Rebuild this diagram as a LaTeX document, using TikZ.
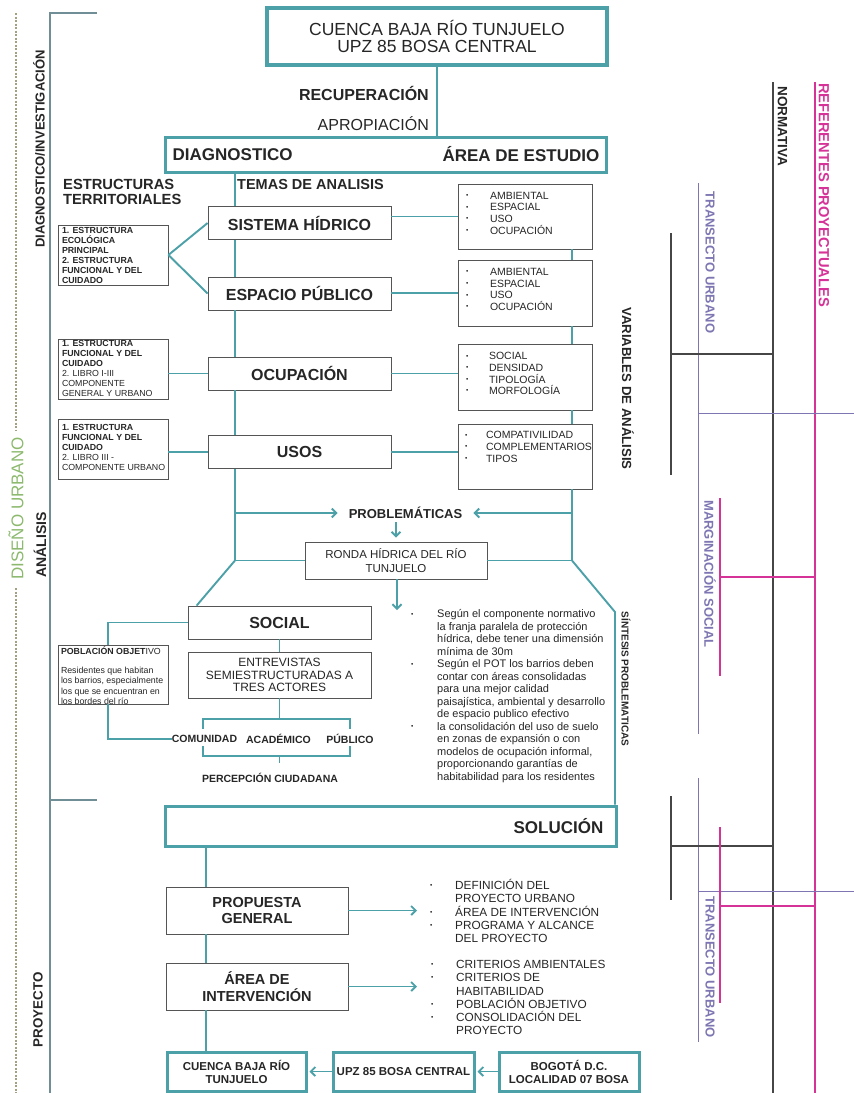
\documentclass[tikz,border=0pt]{standalone}
\usepackage{fontspec}
\setmainfont{Liberation Sans}
\usetikzlibrary{arrows.meta}

\definecolor{riverteal}{RGB}{76,160,168}
\definecolor{boxgray}{RGB}{85,85,85}
\definecolor{inkgray}{RGB}{38,38,38}
\definecolor{bracketgray}{RGB}{112,142,150}
\definecolor{dashgray}{RGB}{165,160,130}
\definecolor{leafgreen}{RGB}{140,185,110}
\definecolor{normgray}{RGB}{70,70,70}
\definecolor{transpurple}{RGB}{125,118,178}
\definecolor{refmagenta}{RGB}{214,51,152}

\newcommand{\fsz}[2]{\fontsize{#1}{#2}\selectfont}
\newcommand{\dotb}{\raisebox{1.8pt}{\fsz{6.5}{6.5}\textbullet}}
\newcommand{\bitem}[2][25pt]{\makebox[#1][l]{\hspace{4pt}\dotb}#2}
\newcommand{\bcont}[2][25pt]{\hspace*{#1}#2}
\newcommand{\topfill}[3]{\parbox[c][#1][t]{#2}{\raggedright #3}}

\tikzset{
  txt/.style={inner sep=0pt, text=inkgray},
  frame/.style={draw=riverteal, line width=3pt, fill=white, inner sep=0pt, text=inkgray},
  tema/.style={draw=boxgray, line width=0.8pt, fill=white, inner sep=0pt, minimum width=183pt, minimum height=33pt, font=\bfseries\fsz{16}{16}, text=inkgray},
  varbox/.style={draw=boxgray, line width=0.8pt, fill=white, inner sep=0pt, minimum width=134pt, minimum height=65pt, font=\fsz{10.5}{11.6}, text=inkgray},
  estbox/.style={draw=boxgray, line width=0.8pt, fill=white, inner sep=0pt, minimum width=110pt, minimum height=60pt, font=\fsz{8.8}{10}, text=inkgray},
  plainbox/.style={draw=boxgray, line width=0.8pt, fill=white, inner sep=0pt, align=center, text=inkgray},
  link/.style={draw=riverteal, line width=1.9pt},
  sidelabel/.style={txt, rotate=90, font=\bfseries\fsz{13}{13}},
  bandlabel/.style={txt, rotate=-90, font=\bfseries\fsz{13}{13}},
  normline/.style={draw=normgray, line width=1.3pt},
  transline/.style={draw=transpurple, line width=1pt},
  refline/.style={draw=refmagenta, line width=1.2pt}
}

\begin{document}
\begin{tikzpicture}[x=1pt, y=-1pt, >={Straight Barb[length=4.5pt, width=9pt]}]
  \useasboundingbox (0, 0) rectangle (854, 1093);

  \draw[dashgray, line width=1.3pt, dash pattern=on 2pt off 1.5pt] (16, 13) -- (16, 430);
  \draw[dashgray, line width=1.3pt, dash pattern=on 2pt off 1.5pt] (16, 588) -- (16, 1093);
  \node[txt, rotate=90, text=leafgreen, font=\fsz{17}{17}] (disenho) at (16, 508.5) {DISEÑO URBANO};
  \draw[bracketgray, line width=1.2pt] (97, 13) -- (50, 13) -- (50, 1093);
  \draw[bracketgray, line width=1.2pt] (50, 800) -- (97, 800);
  \node[sidelabel] (diaginv) at (39, 149) {DIAGNOSTICO/INVESTIGACIÓN};
  \node[sidelabel, font=\bfseries\fsz{14}{14}] (analisis) at (40, 545) {ANÁLISIS};
  \node[sidelabel, font=\bfseries\fsz{13.4}{13.4}] (proyecto) at (38, 1010) {PROYECTO};

  \node[frame, line width=3.5pt, minimum width=340pt, minimum height=57pt, align=center, font=\fsz{17.5}{17.5}] (cuencatop) at (437, 36.5) {CUENCA BAJA RÍO TUNJUELO\\UPZ 85 BOSA CENTRAL};
  \node[txt, anchor=east, font=\bfseries\fsz{16}{16}] (recup) at (429, 93) {RECUPERACIÓN};
  \node[txt, anchor=east, font=\fsz{16}{16}] (aprop) at (429, 124) {APROPIACIÓN};
  \node[frame, minimum width=441pt, minimum height=35pt] (diag) at (385.5, 154.5) {};
  \node[txt, anchor=west, font=\bfseries\fsz{17}{17}] (diagtxt) at ([xshift=9pt]diag.west) {DIAGNOSTICO};
  \node[txt, anchor=east, font=\bfseries\fsz{17}{17}] (areatxt) at ([xshift=-8pt]diag.east) {ÁREA DE ESTUDIO};
  \draw[link] (cuencatop.south) -- (cuencatop.south |- diag.north);

  \node[txt, anchor=west, font=\bfseries\fsz{14.5}{14.5}] (temas) at (237, 185) {TEMAS DE ANALISIS};
  \node[txt, anchor=west, align=left, font=\bfseries\fsz{14.7}{15.5}] (estruct) at (63, 192) {ESTRUCTURAS\\TERRITORIALES};

  \node[tema] (hidrico) at (299.5, 223) {SISTEMA HÍDRICO};
  \node[tema] (publico) at (299.5, 293.5) {ESPACIO PÚBLICO};
  \node[tema] (ocupa) at (299.5, 373.5) {OCUPACIÓN};
  \node[tema] (usos) at (299.5, 452) {USOS};

  \node[varbox] (var1) at (525, 216.5) {\topfill{49pt}{126pt}{\bitem[28pt]{AMBIENTAL}\\\bitem[28pt]{ESPACIAL}\\\bitem[28pt]{USO}\\\bitem[28pt]{OCUPACIÓN}}};
  \node[varbox, minimum height=66pt] (var2) at (525, 293) {\topfill{49pt}{126pt}{\bitem[28pt]{AMBIENTAL}\\\bitem[28pt]{ESPACIAL}\\\bitem[28pt]{USO}\\\bitem[28pt]{OCUPACIÓN}}};
  \node[varbox, minimum height=66pt] (var3) at (525, 377) {\topfill{49pt}{126pt}{\bitem[27pt]{SOCIAL}\\\bitem[27pt]{DENSIDAD}\\\bitem[27pt]{TIPOLOGÍA}\\\bitem[27pt]{MORFOLOGÍA}}};
  \node[varbox] (var4) at (525, 456.5) {\topfill{50pt}{128pt}{\bitem[25pt]{COMPATIVILIDAD}\\\bitem[25pt]{COMPLEMENTARIOS}\\\bitem[25pt]{TIPOS}}};
  \node[bandlabel, font=\bfseries\fsz{13.2}{13.2}] (variables) at (628, 388.5) {VARIABLES DE ANÁLISIS};

  \node[estbox] (est1) at (113, 255) {\topfill{56pt}{102pt}{\bfseries 1. ESTRUCTURA\\ECOLÓGICA\\PRINCIPAL\\2. ESTRUCTURA\\FUNCIONAL Y DEL\\CUIDADO}};
  \node[estbox] (est2) at (113, 369) {\topfill{58pt}{102pt}{{\bfseries 1. ESTRUCTURA\\FUNCIONAL Y DEL\\CUIDADO}\\2. LIBRO I-III\\COMPONENTE\\GENERAL Y URBANO}};
  \node[estbox] (est3) at (113, 449) {\topfill{50pt}{102pt}{{\bfseries 1. ESTRUCTURA\\FUNCIONAL Y DEL\\CUIDADO}\\2. LIBRO III -\\\mbox{COMPONENTE URBANO}}};

  \draw[link] (est1.east) -- (hidrico.west);
  \draw[link] (est1.east) -- (publico.west);
  \draw[link] (ocupa.west) -- (ocupa.west -| est2.east);
  \draw[link] (usos.west) -- (usos.west -| est3.east);
  \draw[link] (var1.west) -- (var1.west -| hidrico.east);
  \draw[link] (var2.west) -- (var2.west -| publico.east);
  \draw[link] (ocupa.east) -- (ocupa.east -| var3.west);
  \draw[link] (usos.east) -- (usos.east -| var4.west);

  \node[plainbox, minimum width=182pt, minimum height=37pt, font=\fsz{11.5}{13.3}] (ronda) at (396, 560.5) {RONDA HÍDRICA DEL RÍO\\TUNJUELO};
  \node[txt, inner xsep=11pt, font=\bfseries\fsz{13}{13}] (probl) at (405.5, 513) {PROBLEMÁTICAS};
  \coordinate (trunkl) at (235, 560.5);
  \coordinate (trunkr) at (572, 560.5);
  \coordinate (sintesisk) at (615, 612);
  \coordinate (rondaout) at (397, 610);

  \draw[link] (diag.south -| trunkl) -- (hidrico.north -| trunkl);
  \draw[link] (hidrico.south -| trunkl) -- (publico.north -| trunkl);
  \draw[link] (publico.south -| trunkl) -- (ocupa.north -| trunkl);
  \draw[link] (ocupa.south -| trunkl) -- (usos.north -| trunkl);
  \draw[link] (usos.south -| trunkl) -- (trunkl) -- (ronda.west);
  \draw[link] (var1.south -| trunkr) -- (var2.north -| trunkr);
  \draw[link] (var2.south -| trunkr) -- (var3.north -| trunkr);
  \draw[link] (var3.south -| trunkr) -- (var4.north -| trunkr);
  \draw[link] (var4.south -| trunkr) -- (trunkr) -- (ronda.east);
  \draw[link, ->] (trunkl |- probl) -- (probl.west);
  \draw[link, ->] (trunkr |- probl) -- (probl.east);
  \draw[link, ->, shorten <=3pt, shorten >=4pt] (ronda.north |- probl.south) -- (ronda.north);
  \draw[link, ->] (ronda.south -| rondaout) -- (rondaout);

  \node[tema] (social) at (279.5, 622.5) {SOCIAL};
  \node[plainbox, minimum width=183pt, minimum height=46pt, font=\fsz{12}{12.7}] (entrev) at (279.5, 675) {ENTREVISTAS\\SEMIESTRUCTURADAS A\\TRES ACTORES};
  \draw[link] (trunkl) -- ([xshift=9pt]social.north west);
  \draw[link] (social) -- (entrev);
  \node[bandlabel, font=\bfseries\fsz{10}{10}] (sintesis) at (626, 679) {SÍNTESIS PROBLEMATICAS};

  \node[txt, font=\bfseries\fsz{10.5}{10.5}] (comunidad) at (204.5, 739) {COMUNIDAD};
  \node[txt, font=\bfseries\fsz{10.5}{10.5}] (academico) at (278.5, 739) {ACADÉMICO};
  \node[txt, font=\bfseries\fsz{10.5}{10.5}] (publ) at (350, 739) {PÚBLICO};
  \node[txt, font=\bfseries\fsz{10.5}{10.5}] (percep) at (270, 778) {PERCEPCIÓN CIUDADANA};
  \coordinate (actl) at (203, 719);
  \coordinate (actr) at (350, 719);
  \coordinate (perl) at (203, 756);
  \coordinate (perr) at (350, 756);
  \draw[link] ([yshift=-10pt]actl) -- (actl) -- (actr) -- ([yshift=-10pt]actr);
  \draw[link] (entrev.south) -- (entrev.south |- actl);
  \draw[link] ([yshift=10pt]perl) -- (perl) -- (perr) -- ([yshift=10pt]perr);
  \draw[link] (entrev |- perl) -- ([yshift=10pt]percep.north -| entrev);

  \node[estbox, minimum height=59pt, font=\fsz{8.8}{10.5}] (poblacion) at (113, 674.5) {\topfill{55pt}{104pt}{\textbf{POBLACIÓN OBJET}IVO\\[8pt]Residentes que habitan\\\mbox{los barrios, especialmente}\\los que se encuentran en\\los bordes del río}};
  \draw[link] (social.west) -| ([xshift=-5pt]poblacion.north);
  \draw[link] ([xshift=-5pt]poblacion.south) |- (comunidad.west);

  \node[txt, anchor=north west, align=left, font=\fsz{11}{12.5}] (sintesislist) at (407, 609.5) {\bitem[30pt]{Según el componente normativo}\\\bcont[30pt]{la franja paralela de protección}\\\bcont[30pt]{hídrica, debe tener una dimensión}\\\bcont[30pt]{mínima de 30m}\\\bitem[30pt]{Según el POT los barrios deben}\\\bcont[30pt]{contar con áreas consolidadas}\\\bcont[30pt]{para una mejor calidad}\\\bcont[30pt]{paisajística, ambiental y desarrollo}\\\bcont[30pt]{de espacio publico efectivo}\\\bitem[30pt]{la consolidación del uso de suelo}\\\bcont[30pt]{en zonas de expansión o con}\\\bcont[30pt]{modelos de ocupación informal,}\\\bcont[30pt]{proporcionando garantías de}\\\bcont[30pt]{habitabilidad para los residentes}};

  \node[frame, minimum width=451pt, minimum height=40pt] (solucion) at (390.5, 826) {};
  \node[txt, anchor=east, font=\bfseries\fsz{17}{17}] (soltxt) at ([xshift=-14pt]solucion.east) {SOLUCIÓN};
  \draw[link] (trunkr) -- (sintesisk) -- (sintesisk |- solucion.north);

  \node[plainbox, minimum width=182pt, minimum height=47pt, font=\bfseries\fsz{14.5}{16.5}] (propuesta) at (257, 910.5) {PROPUESTA\\GENERAL};
  \node[plainbox, minimum width=182pt, minimum height=47pt, font=\bfseries\fsz{14.5}{16.5}] (intervencion) at (257, 986.5) {ÁREA DE\\INTERVENCIÓN};
  \node[txt, anchor=north west, align=left, font=\fsz{11.8}{13.3}] (proplist) at (426, 879) {\bitem[29pt]{DEFINICIÓN DEL}\\\bcont[29pt]{PROYECTO URBANO}\\\bitem[29pt]{ÁREA DE INTERVENCIÓN}\\\bitem[29pt]{PROGRAMA Y ALCANCE}\\\bcont[29pt]{DEL PROYECTO}};
  \node[txt, anchor=north west, align=left, font=\fsz{11.8}{13.3}] (intlist) at (427, 960) {\bitem[29pt]{CRITERIOS AMBIENTALES}\\\bitem[29pt]{CRITERIOS DE}\\\bcont[29pt]{HABITABILIDAD}\\\bitem[29pt]{POBLACIÓN OBJETIVO}\\\bitem[29pt]{CONSOLIDACIÓN DEL}\\\bcont[29pt]{PROYECTO}};
  \draw[link, ->, shorten >=9pt] (propuesta.east) -- (propuesta.east -| proplist.west);
  \draw[link, ->, shorten >=10pt] (intervencion.east) -- (intervencion.east -| intlist.west);

  \node[frame, minimum width=139pt, minimum height=39pt, align=center, font=\bfseries\fsz{11.5}{13}] (cuencabaja) at (236.5, 1071.5) {CUENCA BAJA RÍO\\TUNJUELO};
  \node[frame, minimum width=141pt, minimum height=39pt, font=\bfseries\fsz{11.5}{13}] (upz) at (403.5, 1071.5) {UPZ 85 BOSA CENTRAL};
  \node[frame, minimum width=140pt, minimum height=39pt, align=center, font=\bfseries\fsz{11.5}{13}] (bogota) at (569, 1071.5) {BOGOTÁ D.C.\\LOCALIDAD 07 BOSA};
  \coordinate (spine) at (206, 1052);
  \draw[link] (solucion.south -| spine) -- (propuesta.north -| spine);
  \draw[link] (propuesta.south -| spine) -- (intervencion.north -| spine);
  \draw[link] (intervencion.south -| spine) -- (cuencabaja.north -| spine);
  \draw[link, ->, shorten >=2pt] (upz.west) -- (cuencabaja.east);
  \draw[link, ->, shorten >=2pt] (bogota.west) -- (upz.east);

  \draw[normline] (773, 82) -- (773, 1093);
  \draw[refline] (815, 82) -- (815, 1093);
  \node[bandlabel, font=\bfseries\fsz{13.5}{13.5}] (normativa) at (782.5, 126.5) {NORMATIVA};
  \node[bandlabel, text=refmagenta, font=\bfseries\fsz{14.7}{14.7}] (referentes) at (824, 195) {REFERENTES PROYECTUALES};
  \draw[transline] (698, 183) -- (698, 734);
  \draw[transline] (698, 778) -- (698, 1042);
  \node[bandlabel, text=transpurple] (transecto) at (710, 262.5) {TRANSECTO URBANO};
  \node[bandlabel, text=transpurple] (marginacion) at (710, 574) {MARGINACIÓN SOCIAL};
  \node[bandlabel, text=transpurple] (transectob) at (710, 967) {TRANSECTO URBANO};
  \draw[normline] (671, 233) -- (671, 475);
  \draw[normline] (671, 354) -- (773, 354);
  \draw[normline] (671, 796) -- (671, 900);
  \draw[normline] (671, 846) -- (773, 846);
  \draw[transline] (698, 413) -- (854, 413);
  \draw[transline] (698, 891) -- (854, 891);
  \draw[refline] (720, 498) -- (720, 676);
  \draw[refline] (720, 577) -- (815, 577);
  \draw[refline] (720, 827) -- (720, 1003);
  \draw[refline] (720, 906) -- (815, 906);
\end{tikzpicture}
\end{document}
